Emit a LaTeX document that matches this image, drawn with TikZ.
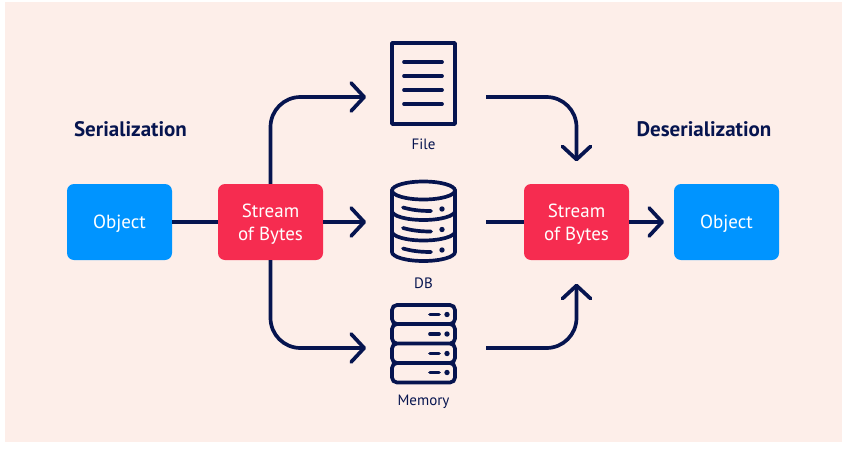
\documentclass[tikz,border=0pt]{standalone}
\usepackage{fontspec}
\setmainfont{PT Sans}
\usetikzlibrary{arrows.meta}

\definecolor{bgpink}{HTML}{FDEEE9}
\definecolor{navy}{HTML}{06144F}
\definecolor{objblue}{HTML}{0094FF}
\definecolor{streamred}{HTML}{F62C50}

\newcommand{\boxline}[1]{\raisebox{-1.8pt}[\height][\depth]{#1}}

\tikzset{
	box/.style={rounded corners=7pt, minimum width=105pt, minimum height=76pt, inner sep=0pt, text=white, font=\fontsize{19}{23}\selectfont, align=center},
	objbox/.style={box, fill=objblue},
	streambox/.style={box, fill=streamred},
	link/.style={navy, line width=3.7pt},
	arrowlink/.style={link, -{Straight Barb[length=13pt, width=28pt, line width=3.7pt, round]}},
	icon/.style={navy, line width=3.7pt, line cap=round},
	iconlabel/.style={text=navy, font=\fontsize{15}{18}\selectfont, inner sep=0pt},
	title/.style={text=navy, font=\fontsize{21}{24}\selectfont\bfseries, inner sep=0pt}
}

\begin{document}
\begin{tikzpicture}[x=1pt, y=-1pt]

	\useasboundingbox (0,0) rectangle (846,450);
	\fill[bgpink] (5,2) rectangle (842,442);

	% titles
	\node[title] (sertitle) at (130.5,129.5) {Serialization};
	\node[title] (destitle) at (704,129.5) {Deserialization};

	% boxes
	\node[objbox] (objleft) at (119.5,222) {\boxline{Object}};
	\node[streambox] (streamleft) at (270.5,222) {\boxline{Stream}\\\boxline{of Bytes}};
	\node[streambox] (streamright) at (576.5,222) {\boxline{Stream}\\\boxline{of Bytes}};
	\node[objbox] (objright) at (726.5,222) {\boxline{Object}};

	% icon labels
	\node[iconlabel] (filelabel) at (423.5,144) {File};
	\node[iconlabel] (dblabel) at (423.5,283) {DB};
	\node[iconlabel] (memlabel) at (423.5,402) {Memory};

	% connector ends
	\coordinate (filein) at (366,97);
	\coordinate (fileout) at (486,97);
	\coordinate (dbin) at (366,222);
	\coordinate (dbout) at (486,222);
	\coordinate (memin) at (366,348);
	\coordinate (memout) at (486,348);
	\coordinate (objin) at (664,222);

	% left side
	\draw[link] (objleft) -- (streamleft);
	\draw[arrowlink, rounded corners=30pt] (streamleft.north) |- (filein);
	\draw[arrowlink] (streamleft) -- (dbin);
	\draw[arrowlink, rounded corners=30pt] (streamleft.south) |- (memin);

	% right side
	\draw[arrowlink, rounded corners=30pt] (fileout) -| ([yshift=22.5pt]streamright.north);
	\draw[link] (dbout) -- (streamright);
	\draw[arrowlink, rounded corners=30pt] (memout) -| ([yshift=-23.5pt]streamright.south);
	\draw[arrowlink] (streamright) -- (objin);

	%draw file
	\draw[icon, line join=round] (392,43) rectangle (455,124);
	\draw[icon]
	(404,62) -- (442,62)
	(404,76) -- (442,76)
	(404,90) -- (442,90)
	(404,104) -- (442,104);

	%draw db
	\draw[icon] (423.5,190.5) ellipse (31.5 and 9);
	\draw[icon] (392,190.5) -- (392,251.5) (455,190.5) -- (455,251.5);
	\draw[icon]
	(392,211) arc[start angle=180, end angle=360, x radius=31.5, y radius=-9]
	(392,231.5) arc[start angle=180, end angle=360, x radius=31.5, y radius=-9]
	(392,252) arc[start angle=180, end angle=360, x radius=31.5, y radius=-9];
	\draw[icon]
	(403,207.5) .. controls (412,210) and (420,211) .. (431,211)
	(403,228) .. controls (412,230.5) and (420,231.5) .. (431,231.5)
	(403,248.5) .. controls (412,251) and (420,252) .. (431,252);
	\fill[navy] (442,209) circle (2.7) (442,229.5) circle (2.7) (442,250) circle (2.7);

	%draw memory
	\draw[icon, rounded corners=5pt]
	(392,305) rectangle (455,324)
	(392,324) rectangle (455,343.5)
	(392,343.5) rectangle (455,363)
	(392,363) rectangle (455,382.5);
	\draw[icon]
	(430,314.5) -- (439,314.5)
	(430,334) -- (439,334)
	(430,353.5) -- (439,353.5)
	(430,372.5) -- (439,372.5);
	\fill[navy] (447,314.5) circle (2.7) (447,334) circle (2.7) (447,353.5) circle (2.7) (447,372.5) circle (2.7);

\end{tikzpicture}
\end{document}
